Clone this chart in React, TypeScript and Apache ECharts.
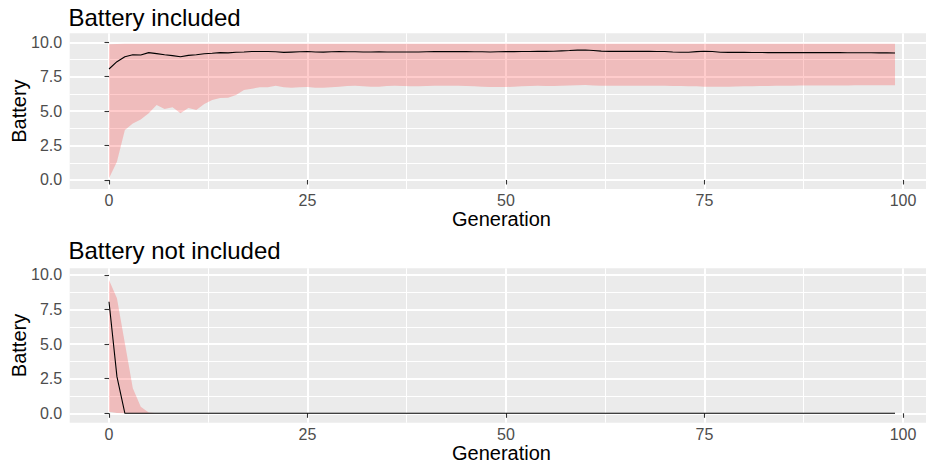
import React, { useEffect, useRef } from "react";
import * as echarts from "echarts";

// ---- Data ----
const xMajorTicks = [0, 25, 50, 75, 100];
const xMinorTicks = [12.5, 37.5, 62.5, 87.5];
const yMajorTicks = [0, 2.5, 5, 7.5, 10];
const yMinorTicks = [1.25, 3.75, 6.25, 8.75];

const panelTitles = ["Battery included", "Battery not included"];

// Battery included: mean, lower and upper ribbon bounds per generation (0..99)
const includedMean = [
  8.06, 8.59, 8.95, 9.1, 9.08, 9.25, 9.18, 9.1, 9.03, 8.95,
  9.05, 9.1, 9.17, 9.2, 9.25, 9.23, 9.28, 9.3, 9.33, 9.33,
  9.33, 9.31, 9.27, 9.29, 9.31, 9.33, 9.3, 9.29, 9.31, 9.32,
  9.31, 9.31, 9.3, 9.3, 9.31, 9.3, 9.3, 9.3, 9.3, 9.3,
  9.31, 9.32, 9.32, 9.32, 9.32, 9.32, 9.31, 9.31, 9.3, 9.31,
  9.32, 9.32, 9.33, 9.33, 9.34, 9.34, 9.35, 9.38, 9.4, 9.43,
  9.44, 9.4, 9.36, 9.34, 9.34, 9.34, 9.34, 9.34, 9.34, 9.33,
  9.33, 9.3, 9.28, 9.28, 9.32, 9.35, 9.33, 9.28, 9.27, 9.27,
  9.27, 9.26, 9.26, 9.25, 9.25, 9.25, 9.25, 9.25, 9.25, 9.25,
  9.25, 9.25, 9.25, 9.24, 9.24, 9.24, 9.24, 9.23, 9.23, 9.22,
];
const includedLow = [
  0.12, 1.33, 3.63, 4.11, 4.4, 4.84, 5.45, 5.16, 5.28, 4.84,
  5.23, 5.08, 5.52, 5.81, 5.95, 5.98, 6.17, 6.54, 6.63, 6.73,
  6.73, 6.85, 6.73, 6.7, 6.73, 6.75, 6.7, 6.7, 6.74, 6.78,
  6.82, 6.84, 6.8, 6.77, 6.78, 6.83, 6.85, 6.82, 6.8, 6.81,
  6.82, 6.84, 6.84, 6.84, 6.84, 6.82, 6.8, 6.78, 6.76, 6.76,
  6.76, 6.77, 6.8, 6.82, 6.84, 6.83, 6.82, 6.84, 6.86, 6.88,
  6.9, 6.86, 6.84, 6.84, 6.85, 6.84, 6.84, 6.84, 6.84, 6.84,
  6.84, 6.83, 6.82, 6.8, 6.8, 6.78, 6.77, 6.77, 6.78, 6.79,
  6.8, 6.81, 6.82, 6.83, 6.84, 6.84, 6.85, 6.86, 6.86, 6.86,
  6.87, 6.87, 6.87, 6.87, 6.88, 6.88, 6.88, 6.88, 6.88, 6.88,
];
const includedHigh = [
  9.85, 9.88, 9.89, 9.9, 9.9, 9.9, 9.9, 9.9, 9.9, 9.9,
  9.9, 9.9, 9.9, 9.9, 9.9, 9.9, 9.9, 9.9, 9.9, 9.9,
  9.9, 9.9, 9.9, 9.9, 9.9, 9.9, 9.9, 9.9, 9.9, 9.9,
  9.9, 9.9, 9.9, 9.9, 9.9, 9.9, 9.9, 9.9, 9.9, 9.9,
  9.9, 9.9, 9.9, 9.9, 9.9, 9.9, 9.9, 9.9, 9.9, 9.9,
  9.9, 9.9, 9.9, 9.9, 9.9, 9.9, 9.9, 9.9, 9.9, 9.9,
  9.9, 9.9, 9.9, 9.9, 9.9, 9.9, 9.9, 9.9, 9.9, 9.9,
  9.9, 9.9, 9.9, 9.9, 9.9, 9.9, 9.9, 9.9, 9.9, 9.9,
  9.9, 9.9, 9.9, 9.9, 9.9, 9.9, 9.9, 9.9, 9.9, 9.9,
  9.9, 9.9, 9.9, 9.9, 9.9, 9.9, 9.9, 9.9, 9.9, 9.9,
];

// Battery not included
const notIncludedMean = [
  8.07, 2.65, 0, 0, 0, 0, 0, 0, 0, 0,
  0, 0, 0, 0, 0, 0, 0, 0, 0, 0,
  0, 0, 0, 0, 0, 0, 0, 0, 0, 0,
  0, 0, 0, 0, 0, 0, 0, 0, 0, 0,
  0, 0, 0, 0, 0, 0, 0, 0, 0, 0,
  0, 0, 0, 0, 0, 0, 0, 0, 0, 0,
  0, 0, 0, 0, 0, 0, 0, 0, 0, 0,
  0, 0, 0, 0, 0, 0, 0, 0, 0, 0,
  0, 0, 0, 0, 0, 0, 0, 0, 0, 0,
  0, 0, 0, 0, 0, 0, 0, 0, 0, 0,
];
const notIncludedLow = [
  0.12, 0.02, 0, 0, 0, 0, 0, 0, 0, 0,
  0, 0, 0, 0, 0, 0, 0, 0, 0, 0,
  0, 0, 0, 0, 0, 0, 0, 0, 0, 0,
  0, 0, 0, 0, 0, 0, 0, 0, 0, 0,
  0, 0, 0, 0, 0, 0, 0, 0, 0, 0,
  0, 0, 0, 0, 0, 0, 0, 0, 0, 0,
  0, 0, 0, 0, 0, 0, 0, 0, 0, 0,
  0, 0, 0, 0, 0, 0, 0, 0, 0, 0,
  0, 0, 0, 0, 0, 0, 0, 0, 0, 0,
  0, 0, 0, 0, 0, 0, 0, 0, 0, 0,
];
const notIncludedHigh = [
  9.64, 8.31, 5.06, 1.81, 0.48, 0.05, 0.01, 0, 0, 0,
  0, 0, 0, 0, 0, 0, 0, 0, 0, 0,
  0, 0, 0, 0, 0, 0, 0, 0, 0, 0,
  0, 0, 0, 0, 0, 0, 0, 0, 0, 0,
  0, 0, 0, 0, 0, 0, 0, 0, 0, 0,
  0, 0, 0, 0, 0, 0, 0, 0, 0, 0,
  0, 0, 0, 0, 0, 0, 0, 0, 0, 0,
  0, 0, 0, 0, 0, 0, 0, 0, 0, 0,
  0, 0, 0, 0, 0, 0, 0, 0, 0, 0,
  0, 0, 0, 0, 0, 0, 0, 0, 0, 0,
];

const FONT = "'Liberation Sans', Arial, Helvetica, sans-serif";

const panels = [
  {
    title: panelTitles[0],
    mean: includedMean,
    low: includedLow,
    high: includedHigh,
    top: 33.3,
    height: 155.7,
    yMin: -0.654,
    yMax: 10.654,
  },
  {
    title: panelTitles[1],
    mean: notIncludedMean,
    low: notIncludedLow,
    high: notIncludedHigh,
    top: 268.3,
    height: 154.4,
    yMin: -0.68,
    yMax: 10.484,
  },
];

// The panel runs past the right edge of the picture; the visible part ends at ~102.9
const GRID_LEFT = 69.7;
const GRID_RIGHT = 0;
const X_MIN = -4.95;
const X_MAX = 102.9;
const X_TITLE_CENTER = 501.5;

function buildOption() {
  const grid: any[] = [];
  const xAxis: any[] = [];
  const yAxis: any[] = [];
  const series: any[] = [];
  const graphic: any[] = [];

  panels.forEach((p, i) => {
    grid.push({
      left: GRID_LEFT,
      right: GRID_RIGHT,
      top: p.top,
      height: p.height,
      show: true,
      backgroundColor: "#EBEBEB",
      borderWidth: 0,
      containLabel: false,
    });
    // major x axis
    xAxis.push({
      type: "value",
      gridIndex: i,
      min: X_MIN,
      max: X_MAX,
      axisLine: { show: false },
      axisTick: {
        show: true,
        customValues: xMajorTicks,
        length: 4.5,
        lineStyle: { color: "#333333", width: 1.1 },
      },
      axisLabel: {
        show: true,
        customValues: xMajorTicks,
        color: "#4D4D4D",
        fontSize: 16,
        fontFamily: FONT,
        margin: 11.5,
        verticalAlign: "middle",
        formatter: (v: number) => String(v),
      },
      splitLine: { show: true, lineStyle: { color: "#FFFFFF", width: 2 } },
    });
    // minor x axis (grid lines only)
    xAxis.push({
      type: "value",
      gridIndex: i,
      min: X_MIN,
      max: X_MAX,
      position: "bottom",
      axisLine: { show: false },
      axisTick: { show: false, customValues: xMinorTicks },
      axisLabel: { show: false, customValues: xMinorTicks },
      splitLine: { show: true, lineStyle: { color: "#FFFFFF", width: 1 } },
    });
    // major y axis
    yAxis.push({
      type: "value",
      gridIndex: i,
      min: p.yMin,
      max: p.yMax,
      axisLine: { show: false },
      axisTick: {
        show: true,
        customValues: yMajorTicks,
        length: 4.5,
        lineStyle: { color: "#333333", width: 1.1 },
      },
      axisLabel: {
        show: true,
        customValues: yMajorTicks,
        color: "#4D4D4D",
        fontSize: 16,
        fontFamily: FONT,
        margin: 7.5,
        formatter: (v: number) => v.toFixed(1),
      },
      splitLine: { show: true, lineStyle: { color: "#FFFFFF", width: 2 } },
    });
    // minor y axis
    yAxis.push({
      type: "value",
      gridIndex: i,
      min: p.yMin,
      max: p.yMax,
      position: "left",
      axisLine: { show: false },
      axisTick: { show: false, customValues: yMinorTicks },
      axisLabel: { show: false, customValues: yMinorTicks },
      splitLine: { show: true, lineStyle: { color: "#FFFFFF", width: 1 } },
    });

    const xi = i * 2;
    const yi = i * 2;
    const low = p.low;
    const high = p.high;
    // ribbon (low..high) as a single polygon through the axes' scales
    series.push({
      type: "custom",
      name: p.title + " range",
      xAxisIndex: xi,
      yAxisIndex: yi,
      data: low.map((v, g) => [g, v, high[g]]),
      encode: { x: 0, y: [1, 2] },
      silent: true,
      z: 2,
      renderItem: (params: any, api: any) => {
        if (params.dataIndex !== 0) return null;
        const pts: number[][] = [];
        for (let g = 0; g < high.length; g++) pts.push(api.coord([g, high[g]]));
        for (let g = low.length - 1; g >= 0; g--) pts.push(api.coord([g, low[g]]));
        return {
          type: "polygon",
          shape: { points: pts },
          style: { fill: "rgba(255,0,0,0.2)", stroke: "none" },
        };
      },
    });
    series.push({
      type: "line",
      name: p.title + " mean",
      xAxisIndex: xi,
      yAxisIndex: yi,
      data: p.mean.map((v, g) => [g, v]),
      symbol: "none",
      lineStyle: { color: "#000000", width: 1.1 },
      silent: true,
      z: 3,
    });

    const panelTop = p.top;
    const panelBottom = p.top + p.height;
    // Panel title
    graphic.push({
      type: "text",
      x: 68.5,
      y: panelTop - 16.3 - (i === 1 ? 2 : 0),
      style: {
        text: p.title,
        fill: "#000000",
        fontSize: 24,
        fontFamily: FONT,
        align: "left",
        verticalAlign: "middle",
      },
    });
    // y-axis title
    graphic.push({
      type: "text",
      x: 19.2,
      y: panelTop + p.height / 2,
      rotation: Math.PI / 2,
      style: {
        text: "Battery",
        fill: "#000000",
        fontSize: 20,
        fontFamily: FONT,
        align: "center",
        verticalAlign: "middle",
      },
    });
    // x-axis title
    graphic.push({
      type: "text",
      x: X_TITLE_CENTER,
      y: panelBottom + 30,
      style: {
        text: "Generation",
        fill: "#000000",
        fontSize: 20,
        fontFamily: FONT,
        align: "center",
        verticalAlign: "middle",
      },
    });
  });

  return {
    animation: false,
    backgroundColor: "#FFFFFF",
    grid,
    xAxis,
    yAxis,
    series,
    graphic,
  };
}

export default function App() {
  const ref = useRef<HTMLDivElement>(null);

  useEffect(() => {
    document.body.style.margin = "0";
    if (!ref.current) return;
    const chart = echarts.init(ref.current, undefined, { renderer: "svg" });
    chart.setOption(buildOption() as any);
    return () => {
      chart.dispose();
    };
  }, []);

  return (
    <div
      ref={ref}
      style={{ position: "absolute", left: 0, top: 0, width: 926, height: 468 }}
    />
  );
}
